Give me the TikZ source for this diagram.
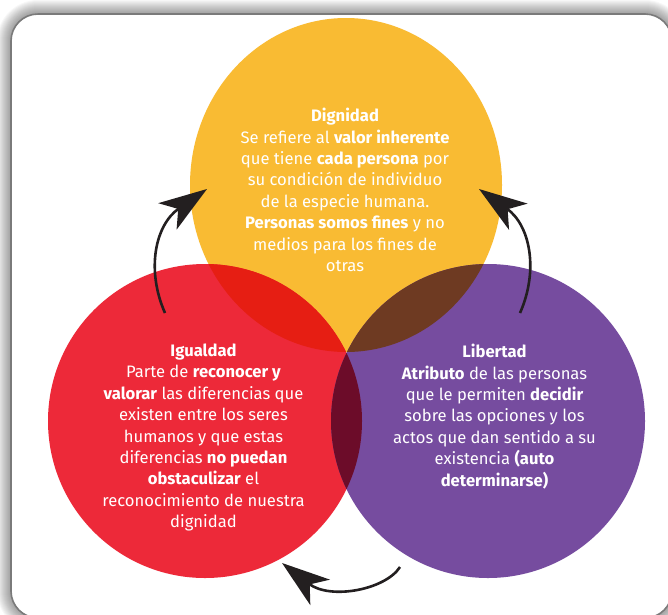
\documentclass[tikz,border=0pt]{standalone}
\usepackage{fontspec}
\setmainfont{Fira Sans}[BoldFont={Fira Sans Bold}]
\usetikzlibrary{arrows.meta}
\definecolor{yel}{HTML}{F9BB33}
\definecolor{redc}{HTML}{ED2939}
\definecolor{pur}{HTML}{764C9F}
\definecolor{yr}{HTML}{E61E13}
\definecolor{yp}{HTML}{6E3A22}
\definecolor{rp}{HTML}{6C0C29}
\definecolor{bord}{HTML}{7A7A7A}
\tikzset{
  txt/.style={text=white, align=center, font=\fontsize{16.6}{21.4}\selectfont, inner sep=0pt},
  cyc/.style={line width=2.6pt, draw={rgb,255:red,35;green,31;blue,32},
    -{Stealth[length=48pt,width=32pt,inset=13pt]}},
}
\begin{document}
\begin{tikzpicture}[x=1pt,y=-1pt]
\useasboundingbox (0,0) rectangle (668,614);
\clip (0,0) rectangle (668,614);
% glow
\foreach \d in {14,13,...,1}{
  \fill[black,opacity=0.03,rounded corners={27+\d}] (11-\d,14-\d) rectangle (672+\d,618+\d);
}
\fill[white,rounded corners=27] (11,14) rectangle (672,618);
\draw[bord,line width=1.6pt,rounded corners=27] (11,14) rectangle (672,618);
% circles
\def\Ypath{(346,185) ellipse [x radius=156, y radius=167]}
\def\Rpath{(205,421) circle [radius=157]}
\def\Ppath{(488,421) circle [radius=157]}
\fill[yel] \Ypath;
\fill[redc] \Rpath;
\fill[pur] \Ppath;
\begin{scope}\clip \Ypath; \fill[yr] \Rpath; \end{scope}
\begin{scope}\clip \Ypath; \fill[yp] \Ppath; \end{scope}
\begin{scope}\clip \Rpath; \fill[rp] \Ppath; \end{scope}
% texts
\node[txt] (dig) at (345,190) {\textbf{Dignidad}\\
Se refiere al \textbf{valor inherente}\\
que tiene \textbf{cada persona} por\\
su condición de individuo\\
de la especie humana.\\
\textbf{Personas somos fines} y no\\
medios para los fines de\\
otras};
\node[txt] (igu) at (203.5,437.5) {\textbf{Igualdad}\\
Parte de \textbf{reconocer y}\\
\textbf{valorar} las diferencias que\\
existen entre los seres\\
humanos y que estas\\
diferencias \textbf{no puedan}\\
\textbf{obstaculizar} el\\
reconocimiento de nuestra\\
dignidad};
\node[txt] (lib) at (494.5,416.5) {\textbf{Libertad}\\
\textbf{Atributo} de las personas\\
que le permiten \textbf{decidir}\\
sobre las opciones y los\\
actos que dan sentido a su\\
existencia \textbf{(auto}\\
\textbf{determinarse)}};
% arrows
\coordinate (la) at (165,313);
\coordinate (lb) at (207,189);
\coordinate (ra) at (520,313);
\coordinate (rb) at (479,189);
\coordinate (ba) at (400,567);
\coordinate (bb) at (282,563);
\draw[cyc] (la) .. controls (146,270) and (155,225) .. (lb);
\draw[cyc] (ra) .. controls (539,270) and (530,225) .. (rb);
\draw[cyc] (ba) .. controls (385,590) and (330,600) .. (bb);
\end{tikzpicture}
\end{document}
